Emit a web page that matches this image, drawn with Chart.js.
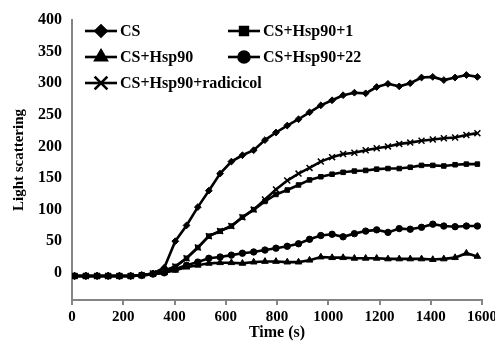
<!DOCTYPE html>
<html>
<head>
<meta charset="utf-8">
<script src="https://cdn.jsdelivr.net/npm/chart.js@4"></script>
<style>
html,body{margin:0;padding:0;background:#fff;}
#wrap{position:relative;width:495px;height:346px;}
</style>
</head>
<body>
<div id="wrap"><canvas id="c" width="495" height="346"></canvas></div>
<script>
const times = [10, 54, 98, 141, 185, 229, 272, 316, 360, 403, 447, 491, 534, 578, 622, 665, 709, 753, 796, 840, 884, 927, 971, 1015, 1058, 1102, 1146, 1189, 1233, 1277, 1320, 1364, 1408, 1451, 1495, 1539, 1582];
const seriesLabels = ['CS', 'CS+Hsp90+1', 'CS+Hsp90', 'CS+Hsp90+22', 'CS+Hsp90+radicicol'];
const csValues = [-5, -5, -5, -5, -5, -5, -4, -1, 8, 50, 75, 104, 130, 157, 176, 186, 194, 210, 222, 233, 243, 254, 265, 273, 281, 285, 284, 294, 299, 295, 300, 309, 310, 305, 309, 313, 310];
const hsp90p1Values = [-5, -5, -5, -5, -5, -5, -4, -1, 3, 10, 23, 40, 58, 66, 74, 88, 100, 113, 124, 131, 139, 147, 152, 156, 159, 161, 162, 164, 165, 165, 167, 170, 170, 169, 171, 172, 172];
const hsp90Values = [-5, -5, -5, -5, -5, -5, -4, -2, 0, 4, 9, 12, 15, 16, 16, 15, 17, 18, 18, 17, 17, 20, 25, 24, 24, 23, 23, 23, 22, 22, 22, 22, 21, 22, 24, 31, 26];
const hsp90p22Values = [-5, -5, -5, -5, -5, -5, -4, -2, 0, 6, 12, 17, 23, 25, 28, 31, 33, 36, 39, 42, 46, 53, 59, 61, 57, 62, 66, 68, 64, 70, 69, 72, 77, 74, 73, 74, 74];
const radicicolValues = [-5, -5, -5, -5, -5, -5, -4, -1, 3, 10, 23, 40, 58, 66, 74, 88, 100, 116, 132, 146, 157, 166, 176, 183, 188, 190, 194, 197, 200, 204, 206, 209, 211, 213, 214, 218, 221];
const xTicks = [0, 200, 400, 600, 800, 1000, 1200, 1400, 1600];
const yTicks = [0, 50, 100, 150, 200, 250, 300, 350, 400];

const allValues = [csValues, hsp90p1Values, hsp90Values, hsp90p22Values, radicicolValues];
const styles = [
  {pointStyle: 'rectRot', pointRadius: 3.4, legendRadius: 5.5},
  {pointStyle: 'rect', pointRadius: 3.2, legendRadius: 5.5},
  {pointStyle: 'triangle', pointRadius: 3.8, legendRadius: 6.5},
  {pointStyle: 'circle', pointRadius: 3.2, legendRadius: 5.5},
  {pointStyle: 'crossRot', pointRadius: 4.2, legendRadius: 9}
];

const datasets = seriesLabels.map((lab, i) => ({
  label: lab,
  data: times.map((t, k) => ({x: t, y: allValues[i][k]})),
  borderColor: '#000',
  backgroundColor: '#000',
  borderWidth: 2.6,
  pointStyle: styles[i].pointStyle,
  pointRadius: styles[i].pointRadius,
  pointBorderWidth: i === 4 ? 1.5 : 1,
  pointBorderColor: '#000',
  pointBackgroundColor: '#000',
  legendRadius: styles[i].legendRadius,
  tension: 0
}));

const serif = '"Liberation Serif", "Times New Roman", serif';

const legendPlugin = {
  id: 'gridLegend',
  afterDraw(chart) {
    const ctx = chart.ctx;
    const colX = [85, 228];
    const rowY = [31, 57, 83];
    const lineLen = 32;
    ctx.save();
    chart.data.datasets.forEach((ds, i) => {
      const col = i % 2, row = Math.floor(i / 2);
      const x0 = colX[col], y = rowY[row];
      ctx.strokeStyle = '#000';
      ctx.lineWidth = 2.6;
      ctx.beginPath();
      ctx.moveTo(x0, y);
      ctx.lineTo(x0 + lineLen, y);
      ctx.stroke();
      ctx.fillStyle = '#000';
      Chart.helpers.drawPoint(ctx, {
        pointStyle: ds.pointStyle,
        radius: ds.legendRadius,
        borderWidth: ds.pointStyle === 'crossRot' ? 2 : 1,
        rotation: 0
      }, x0 + lineLen / 2, y);
      ctx.fillStyle = '#000';
      ctx.font = 'bold 16px ' + serif;
      ctx.textAlign = 'left';
      ctx.textBaseline = 'middle';
      ctx.fillText(ds.label, x0 + lineLen + 3, y + 1);
    });
    ctx.restore();
  }
};

new Chart(document.getElementById('c'), {
  type: 'line',
  data: {datasets},
  plugins: [legendPlugin],
  options: {
    responsive: false,
    animation: false,
    devicePixelRatio: 1,
    layout: {padding: {left: 0, right: 13, top: 20, bottom: 0}},
    plugins: {legend: {display: false}, tooltip: {enabled: false}},
    scales: {
      x: {
        type: 'linear',
        min: 0, max: 1600,
        afterBuildTicks: s => { s.ticks = xTicks.map(v => ({value: v})); },
        afterFit: s => { s.height = 46; s.paddingLeft = 0; s.paddingRight = 0; },
        border: {color: '#858585', width: 2},
        grid: {drawOnChartArea: false, drawTicks: true, tickLength: 5, color: '#858585', lineWidth: 2},
        ticks: {color: '#000', padding: 3, maxRotation: 0, callback: v => String(v), font: {family: serif, size: 15, weight: 'bold'}},
        title: {display: true, text: 'Time (s)', color: '#000', padding: {top: 0, bottom: 4}, font: {family: serif, size: 16, weight: 'bold'}}
      },
      y: {
        type: 'linear',
        min: -43, max: 400,
        afterBuildTicks: s => { s.ticks = yTicks.map(v => ({value: v})); },
        afterFit: s => { s.width = 72; s.paddingTop = 0; s.paddingBottom = 0; },
        border: {color: '#858585', width: 2},
        grid: {drawOnChartArea: false, drawTicks: false, color: '#858585'},
        ticks: {color: '#000', padding: 10, callback: v => String(v), font: {family: serif, size: 16, weight: 'bold'}},
        title: {display: true, text: 'Light scattering', color: '#000', padding: {top: 10, bottom: 0}, font: {family: serif, size: 15, weight: 'bold'}}
      }
    }
  }
});
</script>
</body>
</html>
